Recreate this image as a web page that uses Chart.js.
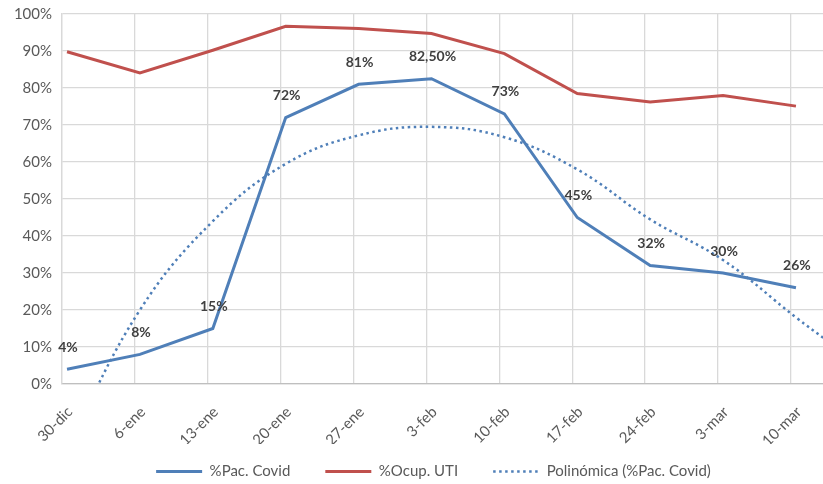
<!DOCTYPE html>
<html>
<head>
<meta charset="utf-8">
<script src="https://cdn.jsdelivr.net/npm/chart.js@4.4.0/dist/chart.umd.min.js"></script>
<style>
    html, body { margin: 0; padding: 0; background: #fff; overflow: hidden; }
    #wrap { width: 823px; height: 484px; position: relative; }
</style>
</head>
<body>
<div id="wrap"><canvas id="chart"></canvas></div>
<script>
/* ================================
   Data
================================ */
const weeks = ["30-dic", "6-ene", "13-ene", "20-ene", "27-ene", "3-feb", "10-feb", "17-feb", "24-feb", "3-mar", "10-mar"];
const pacCovid = [4, 8, 15, 72, 81, 82.5, 73, 45, 32, 30, 26];
const pacLabels = ["4%", "8%", "15%", "72%", "81%", "82,50%", "73%", "45%", "32%", "30%", "26%"];
const ocupUti = [89.8, 84.1, 90.2, 96.7, 96.1, 94.7, 89.3, 78.5, 76.2, 78, 75.1];
// polynomial trend line, sampled at each week and at the right edge (forecast)
const trendX = [0, 1, 2, 3, 4, 5, 6, 7, 8, 9, 10, 10.44];
const trendY = [-17, 20, 44, 59.5, 67.2, 69.5, 66.7, 58, 44.5, 33.5, 18, 11.5];
const yTicks = [0, 10, 20, 30, 40, 50, 60, 70, 80, 90, 100];

const BLUE = "#4f7fb8";
const RED = "#c0504d";
const TEXT = "#595959";
const FONT = "Lato, 'Liberation Sans', sans-serif";

function toPoints(values) {
    return values.map(function (v, i) {
        return { x: i, y: v };
    });
}

/* ================================
   Data labels above %Pac. Covid
================================ */
const pointLabels = {
    id: "pointLabels",
    afterDatasetsDraw: function (chart) {
        const meta = chart.getDatasetMeta(0);
        const ctx = chart.ctx;
        ctx.save();
        ctx.font = "bold 14px " + FONT;
        ctx.fillStyle = "#404040";
        ctx.textAlign = "center";
        ctx.textBaseline = "middle";
        meta.data.forEach(function (pt, i) {
            ctx.fillText(pacLabels[i], pt.x + 1, pt.y - 22);
        });
        ctx.restore();
    },
};

// legend sits a bit right of the canvas centre, close to the bottom
const legendShift = {
    id: "legendShift",
    afterLayout: function (chart) {
        chart.legend.left += 22;
        chart.legend.right += 22;
        chart.legend.top -= 15;
        chart.legend.bottom -= 15;
    },
};

const ctx = document.getElementById("chart").getContext("2d");
new Chart(ctx, {
    type: "line",
    data: {
        datasets: [{
            label: "%Pac. Covid",
            data: toPoints(pacCovid),
            xAxisID: "xd",
            borderColor: BLUE,
            backgroundColor: BLUE,
            borderWidth: 3,
            pointRadius: 0,
            tension: 0,
            order: 2,
        }, {
            label: "%Ocup. UTI",
            data: toPoints(ocupUti),
            xAxisID: "xd",
            borderColor: RED,
            backgroundColor: RED,
            borderWidth: 3,
            pointRadius: 0,
            tension: 0,
            order: 3,
        }, {
            label: "Polinómica (%Pac. Covid)",
            data: trendX.map(function (x, i) {
                return { x: x, y: trendY[i] };
            }),
            xAxisID: "xd",
            borderColor: BLUE,
            backgroundColor: "transparent",
            borderWidth: 2.5,
            borderDash: [2.5, 3.5],
            pointRadius: 0,
            tension: 0.4,
            order: 1,
        }, ],
    },
    options: {
        responsive: true,
        maintainAspectRatio: false,
        animation: false,
        layout: {
            padding: { top: 14, right: 0, bottom: -20, left: 0 },
        },
        plugins: {
            tooltip: { enabled: false },
            legend: {
                position: "bottom",
                labels: {
                    usePointStyle: true,
                    pointStyleWidth: 46,
                    padding: 35,
                    color: TEXT,
                    font: { family: FONT, size: 15 },
                    generateLabels: function (chart) {
                        return chart.data.datasets.map(function (ds, i) {
                            return {
                                text: ds.label,
                                fillStyle: ds.borderColor,
                                strokeStyle: ds.borderColor,
                                lineWidth: ds.borderWidth,
                                lineDash: ds.borderDash || [],
                                pointStyle: "line",
                                fontColor: TEXT,
                                hidden: false,
                                datasetIndex: i,
                            };
                        });
                    },
                },
            },
        },
        scales: {
            x: {
                type: "linear",
                min: 0,
                max: 10.44,
                afterBuildTicks: function (scale) {
                    scale.ticks = weeks.map(function (w, i) {
                        return { value: i };
                    });
                },
                afterFit: function (scale) {
                    scale.height = 60;
                },
                ticks: {
                    autoSkip: false,
                    maxRotation: 45,
                    minRotation: 45,
                    padding: 19,
                    labelOffset: 8,
                    color: TEXT,
                    font: { family: FONT, size: 15 },
                    callback: function (value) {
                        return weeks[value] || "";
                    },
                },
                grid: {
                    color: "#d9d9d9",
                    lineWidth: 1.3,
                    drawTicks: false,
                },
                border: { color: "#bfbfbf", width: 1.3 },
            },
            xd: {
                type: "linear",
                display: false,
                min: -0.069,
                max: 10.371,
            },
            y: {
                min: 0,
                max: 100,
                afterBuildTicks: function (scale) {
                    scale.ticks = yTicks.map(function (v) {
                        return { value: v };
                    });
                },
                afterFit: function (scale) {
                    scale.width = 62;
                    scale.paddingTop = 0;
                },
                ticks: {
                    padding: 10,
                    color: TEXT,
                    font: { family: FONT, size: 15 },
                    callback: function (value) {
                        return value + "%";
                    },
                },
                grid: {
                    color: "#d9d9d9",
                    lineWidth: 1.3,
                    drawTicks: false,
                },
                border: { color: "#d9d9d9", width: 1.3 },
            },
        },
    },
    plugins: [pointLabels, legendShift],
});
</script>
</body>
</html>
